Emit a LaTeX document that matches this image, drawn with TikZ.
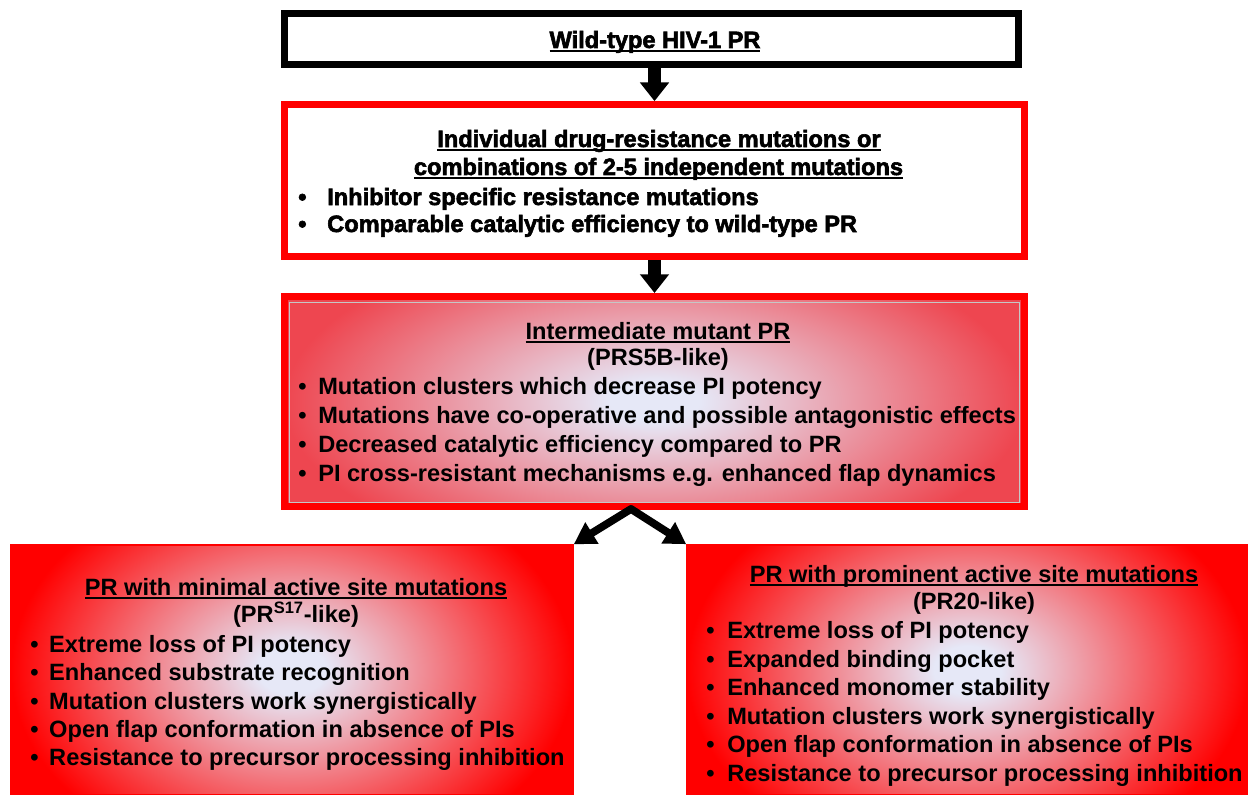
\documentclass[tikz,border=0pt]{standalone}
\usepackage{fontspec}
\setmainfont{Liberation Sans}
\newfontfamily\heavyfont{Liberation Sans}[BoldFeatures={FakeBold=2.5}]
\usetikzlibrary{arrows.meta}
\definecolor{glowc}{RGB}{230,232,247}
\definecolor{softred}{RGB}{238,70,80}
\pgfdeclareradialshading{redglow}{\pgfpoint{0bp}{0bp}}{color(0bp)=(glowc); color(3bp)=(glowc); color(25bp)=(red); color(50bp)=(red)}
\pgfdeclareradialshading{softglow}{\pgfpoint{0bp}{0bp}}{color(0bp)=(glowc); color(3bp)=(glowc); color(25bp)=(softred); color(50bp)=(softred)}
\newcommand\myul[1]{\setbox0\hbox{#1}\rlap{\rule[-2.8pt]{\wd0}{1.4pt}}\box0}
\newcommand\bul[2]{\makebox[#1][l]{•}#2}
\tikzset{
  plainbox/.style={rectangle, inner sep=0pt, line width=5pt},
  edgebox/.style={rectangle, inner sep=0pt, draw=red, line width=1.2pt},
  midbox/.style={rectangle, inner sep=0pt, draw=red, line width=5.25pt},
  ctext/.style={inner sep=0pt, anchor=base, font=\fontsize{17.7}{20}\selectfont\bfseries},
  ltext/.style={inner sep=0pt, anchor=base west, font=\fontsize{17.7}{20}\selectfont\bfseries},
  htext/.style={inner sep=0pt, anchor=base, font=\fontsize{17.7}{20}\selectfont\heavyfont\bfseries},
  hltext/.style={inner sep=0pt, anchor=base west, font=\fontsize{17.7}{20}\selectfont\heavyfont\bfseries},
  bigarrow/.style={line width=9.5pt, -{Triangle[length=14pt,width=21pt]}},
  chev/.style={line width=5.8pt, line cap=round, -{Triangle[length=16pt,width=18pt]}}
}
\begin{document}
\begin{tikzpicture}[x=0.75pt,y=-0.75pt]
\useasboundingbox (0,0) rectangle (1248,795);
% shaded fills (gradient taller than the boxes, clipped to them)
\begin{scope}
  \clip (284.5,296.5) rectangle (1024.5,506.5);
  \shade[shading=softglow] (284.5,236.5) rectangle (1024.5,566.5);
\end{scope}
\begin{scope}
  \clip (11,545) rectangle (573,795);
  \shade[shading=redglow] (11,470) rectangle (573,870);
\end{scope}
\begin{scope}
  \clip (687,545) rectangle (1248,795);
  \shade[shading=redglow] (687,470) rectangle (1248,870);
\end{scope}
% boxes
\node[plainbox, draw=black, fill=white, minimum width=550.9pt, minimum height=38.6pt] (b1) at (651.5,39) {};
\node[plainbox, draw=red, fill=white, minimum width=555pt, minimum height=114pt] (b2) at (654.5,180.5) {};
\node[midbox, minimum width=555pt, minimum height=157.5pt] (b3) at (654.5,401.5) {};
\node[rectangle, inner sep=0pt, draw=gray!45, line width=0.6pt, minimum width=547.5pt, minimum height=150pt] (b3in) at (654,402) {};
\node[edgebox, minimum width=421.5pt, minimum height=187.5pt] (b4) at (292,670) {};
\node[edgebox, minimum width=420.75pt, minimum height=187.5pt] (b5) at (967.5,670) {};
% box 1 text
\node[htext] (t1) at (655,48) {\myul{Wild-type HIV-1 PR}};
% box 2 text
\node[htext] (t2a) at (659,147) {\myul{Individual drug-resistance mutations or}};
\node[htext] (t2b) at (658.5,175) {\myul{combinations of 2-5 independent mutations}};
\node[hltext] (t2c) at (298,205) {\bul{21.75pt}{Inhibitor specific resistance mutations}};
\node[hltext] (t2d) at (298,232) {\bul{21.75pt}{Comparable catalytic efficiency to wild-type PR}};
% box 3 text
\node[ctext] (t3a) at (658,339) {\myul{Intermediate mutant PR}};
\node[ctext] (t3b) at (658,365) {(PRS5B-like)};
\node[ltext] (t3c) at (298,394) {\bul{15pt}{Mutation clusters which decrease PI potency}};
\node[ltext] (t3d) at (298,423) {\bul{15pt}{Mutations have co-operative and possible antagonistic effects}};
\node[ltext] (t3e) at (298,452) {\bul{15pt}{Decreased catalytic efficiency compared to PR}};
\node[ltext] (t3f) at (298,481) {\bul{15pt}{PI cross-resistant mechanisms e.g. enhanced flap dynamics}};
% box 4 text
\node[ctext] (t4a) at (296,595) {\myul{PR with minimal active site mutations}};
\node[ctext] (t4b) at (296,622) {(PR\textsuperscript{S17}-like)};
\node[ltext] (t4c) at (30,652) {\bul{14.25pt}{Extreme loss of PI potency}};
\node[ltext] (t4d) at (30,680) {\bul{14.25pt}{Enhanced substrate recognition}};
\node[ltext] (t4e) at (30,709) {\bul{14.25pt}{Mutation clusters work synergistically}};
\node[ltext] (t4f) at (30,737) {\bul{14.25pt}{Open flap conformation in absence of PIs}};
\node[ltext] (t4g) at (30,765) {\bul{14.25pt}{Resistance to precursor processing inhibition}};
% box 5 text
\node[ctext] (t5a) at (974,582) {\myul{PR with prominent active site mutations}};
\node[ctext] (t5b) at (974,609) {(PR20-like)};
\node[ltext] (t5c) at (706,638) {\bul{15.75pt}{Extreme loss of PI potency}};
\node[ltext] (t5d) at (706,667) {\bul{15.75pt}{Expanded binding pocket}};
\node[ltext] (t5e) at (706,695) {\bul{15.75pt}{Enhanced monomer stability}};
\node[ltext] (t5f) at (706,724) {\bul{15.75pt}{Mutation clusters work synergistically}};
\node[ltext] (t5g) at (706,752) {\bul{15.75pt}{Open flap conformation in absence of PIs}};
\node[ltext] (t5h) at (706,781) {\bul{15.75pt}{Resistance to precursor processing inhibition}};
% connectors
\draw[bigarrow] (b1.south -| b2.north) -- (b2.north);
\draw[bigarrow] (b2.south) -- (b3.north);
\coordinate (apex) at (631,509);
\draw[chev] (apex) -- (b4.north east);
\draw[chev] (apex) -- (b5.north west);
\end{tikzpicture}
\end{document}
